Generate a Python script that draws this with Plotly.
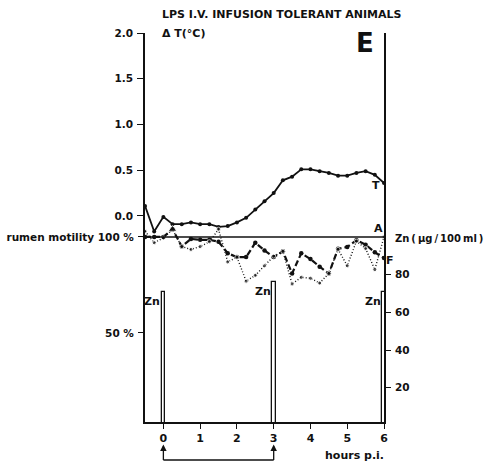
import plotly.graph_objects as go

# sampling times (hours post infusion)
hours = [-0.5, -0.25, 0.0, 0.25, 0.5, 0.75, 1.0, 1.25, 1.5, 1.75, 2.0, 2.25, 2.5,
         2.75, 3.0, 3.25, 3.5, 3.75, 4.0, 4.25, 4.5, 4.75, 5.0, 5.25, 5.5, 5.75, 6.0]

# body temperature change (deg C)
delta_t = [0.11, -0.17, -0.01, -0.09, -0.09, -0.07, -0.09, -0.09, -0.12, -0.11, -0.07,
           -0.02, 0.07, 0.16, 0.25, 0.39, 0.43, 0.51, 0.51, 0.49, 0.47, 0.44, 0.44,
           0.47, 0.49, 0.45, 0.36]

# rumen motility, frequency (% of pre-infusion)
freq_pct = [100, 100, 100, 104, 95, 99, 98.5, 98.5, 97.5, 91.5, 89.5, 89.5, 97,
            93, 89.5, 92.5, 81, 91.5, 88.5, 84.5, 81, 93.8, 94.8, 98.3, 96, 92, 89]

# rumen motility, amplitude (% of pre-infusion)
ampl_pct = [103, 97, 99.5, 104, 95, 93.5, 95, 97.5, 104, 87, 89.5, 77, 80,
            85, 90, 92.5, 75.5, 79, 78.5, 76, 81, 93.6, 85, 97.8, 94, 83, 100]

# zinc injections (plasma Zn, ug/100 ml)
zn_hours = [0, 3, 6]
zn_level = [71, 76, 71]

x_ticks = [0, 1, 2, 3, 4, 5, 6]
t_ticks = [0.0, 0.5, 1.0, 1.5, 2.0]
t_ticktext = ["0.0", "0.5", "1.0", "1.5", "2.0"]
mot_ticks = [50, 100]
mot_ticktext = ["50 %", "rumen motility 100 %"]
zn_ticks = [20, 40, 60, 80]
reference_pct = 100

FONT = "DejaVu Sans"
BLACK = "#111111"
THIN = "\u2009"


def txt(size=11, weight="bold"):
    return dict(family=FONT, size=size, color=BLACK, weight=weight)


fig = go.Figure()

fig.add_trace(go.Bar(
    x=zn_hours, y=zn_level, width=0.1, yaxis="y3",
    marker=dict(color="white", line=dict(color=BLACK, width=1.3)),
    showlegend=False, hoverinfo="skip",
))

fig.add_trace(go.Scatter(
    x=hours, y=delta_t, mode="lines+markers", yaxis="y",
    line=dict(color=BLACK, width=1.8),
    marker=dict(size=4, color=BLACK),
    cliponaxis=False, showlegend=False,
))

fig.add_trace(go.Scatter(
    x=hours, y=freq_pct, mode="lines+markers", yaxis="y2",
    line=dict(color=BLACK, width=2.2, dash="6px,3px"),
    marker=dict(size=4.5, color=BLACK),
    cliponaxis=False, showlegend=False,
))

amp_symbols = ["circle"] * len(hours)
amp_symbols[3] = "triangle-up"
fig.add_trace(go.Scatter(
    x=hours, y=ampl_pct, mode="lines+markers", yaxis="y2",
    line=dict(color=BLACK, width=1.4, dash="1px,2px"),
    marker=dict(size=[4] * 3 + [8] + [4] * 23, color=BLACK, symbol=amp_symbols),
    cliponaxis=False, showlegend=False,
))

# 100 % reference line across the motility panel
fig.add_shape(type="line", xref="paper", yref="y2", x0=0, x1=1,
              y0=reference_pct, y1=reference_pct,
              line=dict(color=BLACK, width=1.6))

annotations = [
    dict(text="LPS I.V. INFUSION TOLERANT ANIMALS", xref="paper", yref="paper",
         x=0.063, y=1.048, xanchor="left", yanchor="middle", showarrow=False,
         font=txt(11)),
    dict(text="Δ T(°C)", xref="paper", yref="paper",
         x=0.063, y=1.0, xanchor="left", yanchor="middle", showarrow=False,
         font=txt(11)),
    dict(text="E", xref="paper", yref="paper",
         x=0.922, y=0.974, xanchor="center", yanchor="middle", showarrow=False,
         font=txt(26)),
    dict(text="T", xref="paper", yref="paper",
         x=0.966, y=0.607, xanchor="center", yanchor="middle", showarrow=False,
         font=txt(11)),
    dict(text="A", xref="paper", yref="paper",
         x=0.975, y=0.497, xanchor="center", yanchor="middle", showarrow=False,
         font=txt(11)),
    dict(text="F", xref="paper", yref="paper",
         x=1.024, y=0.414, xanchor="center", yanchor="middle", showarrow=False,
         font=txt(11)),
    dict(text=f"Zn{THIN}({THIN}µg{THIN}/{THIN}100{THIN}ml{THIN})",
         xref="paper", yref="paper",
         x=1.036, y=0.473, xanchor="left", yanchor="middle", showarrow=False,
         font=txt(10)),
    dict(text="hours p.i.", xref="paper", yref="paper",
         x=1.008, y=-0.085, xanchor="right", yanchor="middle", showarrow=False,
         font=txt(11)),
]

for h, z in zip(zn_hours, zn_level):
    annotations.append(dict(
        text="Zn", xref="x", yref="y3", x=h, y=z, xanchor="right", yanchor="top",
        xshift=-1, yshift=-1, showarrow=False, font=txt(11)))

# injection interval bracket under the time axis
for h in (zn_hours[0], zn_hours[1]):
    annotations.append(dict(
        text="", xref="x", yref="paper", x=h, y=-0.058, ax=0, ay=17,
        showarrow=True, arrowhead=2, arrowsize=1, arrowwidth=1.3,
        arrowcolor=BLACK))
fig.add_shape(type="line", xref="x", yref="paper", x0=zn_hours[0], x1=zn_hours[1],
              y0=-0.0977, y1=-0.0977, line=dict(color=BLACK, width=1.3))

fig.update_layout(
    width=484, height=466,
    margin=dict(l=145, r=100, t=33, b=44, autoexpand=False),
    paper_bgcolor="white", plot_bgcolor="white",
    showlegend=False,
    annotations=annotations,
    xaxis=dict(
        range=[-0.5, 6.0], tickvals=x_ticks, ticks="outside", ticklen=5,
        tickwidth=1.4, tickcolor=BLACK, showline=True, linewidth=1.6,
        linecolor=BLACK, showgrid=False, zeroline=False, tickfont=txt(11),
        ticklabelstandoff=0, automargin=False,
    ),
    yaxis=dict(
        range=[-2.252, 2.0], tickvals=t_ticks, ticktext=t_ticktext,
        ticks="outside", ticklen=6, tickwidth=1.4, tickcolor=BLACK,
        showline=True, linewidth=1.8, linecolor=BLACK, showgrid=False,
        zeroline=False, tickfont=txt(10.5), ticklabelstandoff=2,
        automargin=False,
    ),
    yaxis2=dict(
        range=[3.65, 206.2], overlaying="y", side="left", anchor="x",
        tickvals=mot_ticks, ticktext=mot_ticktext, ticks="outside", ticklen=6,
        tickwidth=1.4, tickcolor=BLACK, showline=False, showgrid=False,
        zeroline=False, tickfont=txt(10.5), ticklabelstandoff=2,
        automargin=False,
    ),
    yaxis3=dict(
        range=[1.86, 208.2], overlaying="y", side="right", anchor="x",
        tickvals=zn_ticks, ticks="outside", ticklen=5, tickwidth=1.4,
        tickcolor=BLACK, showline=True, linewidth=1.8, linecolor=BLACK,
        showgrid=False, zeroline=False, tickfont=txt(10.5), ticklabelstandoff=2,
        automargin=False,
    ),
    bargap=0,
)

fig.write_html("out.html")
